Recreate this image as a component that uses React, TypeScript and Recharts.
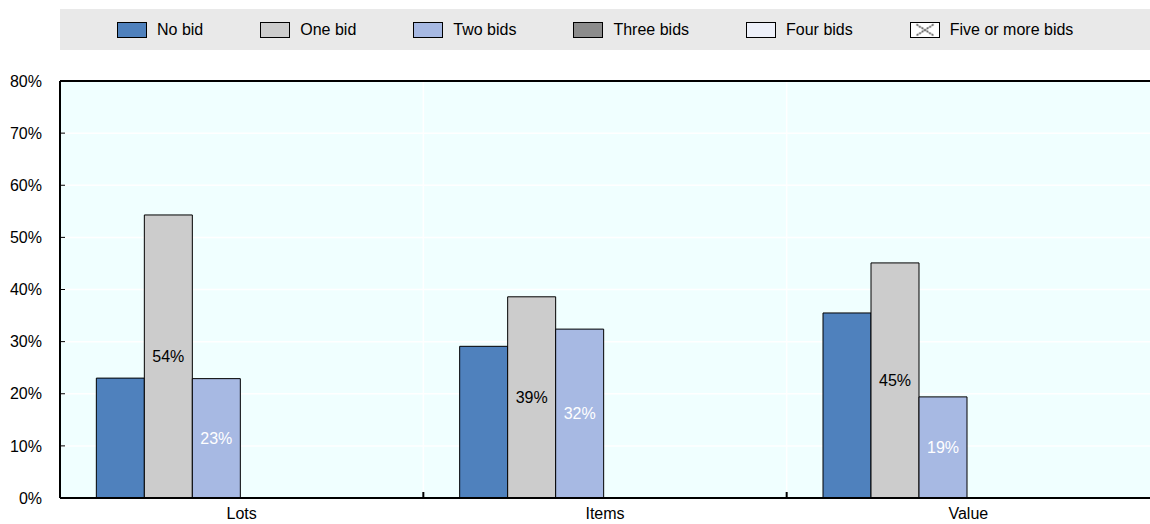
import React from "react";
import {
  BarChart,
  Bar,
  XAxis,
  YAxis,
  CartesianGrid,
  Legend,
  LabelList,
  ReferenceLine,
} from "recharts";

const categories = ["Lots", "Items", "Value"];
const noBid = [23.0, 29.1, 35.5];
const oneBid = [54.3, 38.6, 45.1];
const twoBids = [22.9, 32.4, 19.4];
const threeBids = [0, 0, 0];
const fourBids = [0, 0, 0];
const fiveOrMore = [0, 0, 0];
const yTicks = [0, 10, 20, 30, 40, 50, 60, 70, 80];

const series = [
  { key: "noBid", name: "No bid", color: "#4f81bd", values: noBid },
  { key: "oneBid", name: "One bid", color: "#cccccc", values: oneBid },
  { key: "twoBids", name: "Two bids", color: "#a7b9e3", values: twoBids },
  { key: "threeBids", name: "Three bids", color: "#8c8c8c", values: threeBids },
  { key: "fourBids", name: "Four bids", color: "#eef1fa", values: fourBids },
  { key: "fiveOrMore", name: "Five or more bids", color: "url(#hatch)", values: fiveOrMore },
];

const data = categories.map((cat, i) => {
  const row: Record<string, string | number> = { cat };
  series.forEach((s) => {
    row[s.key] = s.values[i];
  });
  return row;
});

const FONT = '"Liberation Sans", Arial, sans-serif';
const X_TICK_MARGIN = 10;

const pct = (v: number) => `${Math.round(v)}%`;

const LegendBox = () => (
  <div
    style={{
      width: 1090,
      height: 41,
      background: "#e9e9e9",
      display: "flex",
      alignItems: "center",
      paddingLeft: 57,
      boxSizing: "border-box",
      fontFamily: FONT,
      fontSize: 16,
      color: "#000",
    }}
  >
    {series.map((s) => (
      <div key={s.key} style={{ display: "flex", alignItems: "center", marginRight: 57 }}>
        <svg width={30} height={16} style={{ marginRight: 10 }}>
          <defs>
            <pattern id="hatchLegend" width="29" height="15" patternUnits="userSpaceOnUse" x="0.5" y="0.5">
              <rect width="29" height="15" fill="#fff" />
              <path d="M6,2 L23,13 M23,2 L6,13" stroke="#000" strokeWidth={1.2} strokeDasharray="2 1" />
            </pattern>
          </defs>
          <rect
            x={0.5}
            y={0.5}
            width={29}
            height={15}
            fill={s.key === "fiveOrMore" ? "url(#hatchLegend)" : s.color}
            stroke="#000"
            strokeWidth={1}
          />
        </svg>
        <span style={{ whiteSpace: "nowrap" }}>{s.name}</span>
      </div>
    ))}
  </div>
);

// category label at band centre, plus a small inward tick at the band's right edge
const CategoryTick = (props: any) => {
  const { x, y, payload, index } = props;
  const half = payload?.offset ?? 0;
  const axisY = y - X_TICK_MARGIN;
  return (
    <g>
      <text
        x={x}
        y={y}
        dy="0.71em"
        textAnchor="middle"
        fill="#000"
        fontSize={16}
        fontFamily={FONT}
      >
        {payload.value}
      </text>
      {index < categories.length - 1 && (
        <line
          x1={x + half}
          x2={x + half}
          y1={axisY}
          y2={axisY - 6}
          stroke="#000"
          strokeWidth={2}
        />
      )}
    </g>
  );
};

export default function App() {
  return (
    <div style={{ width: 1150, height: 524 }}>
      <style>{`body{margin:0}`}</style>
      <BarChart
        width={1150}
        height={524}
        data={data}
        margin={{ top: 40, right: 0, left: 0, bottom: 0 }}
        barCategoryGap="10%"
        barGap={0}
      >
        <defs>
          <pattern id="hatch" width="6" height="6" patternUnits="userSpaceOnUse">
            <rect width="6" height="6" fill="#fff" />
            <path d="M0,0 L6,6 M6,0 L0,6" stroke="#000" strokeWidth={1} />
          </pattern>
        </defs>
        <CartesianGrid
          fill="#f0ffff"
          stroke="#ffffff"
          strokeWidth={1.5}
          verticalCoordinatesGenerator={({ offset }: any) =>
            categories
              .slice(1)
              .map((_, i) => offset.left + (offset.width * (i + 1)) / categories.length)
          }
        />
        <Legend
          verticalAlign="top"
          align="center"
          wrapperStyle={{ top: 9, left: 60, width: 1090, height: 41 }}
          content={() => <LegendBox />}
        />
        <XAxis
          dataKey="cat"
          tickLine={false}
          tickSize={0}
          axisLine={{ stroke: "#000", strokeWidth: 2 }}
          height={26}
          tickMargin={X_TICK_MARGIN}
          tick={<CategoryTick />}
        />
        <YAxis
          domain={[0, 80]}
          ticks={yTicks}
          tickFormatter={(v: number) => `${v}%`}
          width={60}
          axisLine={{ stroke: "#000", strokeWidth: 2 }}
          tickLine={{ stroke: "#000", strokeWidth: 1 }}
          tickSize={-5}
          tickMargin={23}
          tick={{ fill: "#000", fontSize: 16, fontFamily: FONT }}
        />
        <ReferenceLine y={80} stroke="#000" strokeWidth={2} />
        {series.map((s) => (
          <Bar
            key={s.key}
            dataKey={s.key}
            name={s.name}
            fill={s.color}
            stroke="#000"
            strokeWidth={1}
            isAnimationActive={false}
          >
            {s.key === "oneBid" && (
              <LabelList
                dataKey={s.key}
                position="center"
                formatter={(v: number) => pct(v)}
                fill="#000"
                fontSize={16}
                fontFamily={FONT}
              />
            )}
            {s.key === "twoBids" && (
              <LabelList
                dataKey={s.key}
                position="center"
                formatter={(v: number) => pct(v)}
                fill="#fff"
                fontSize={16}
                fontFamily={FONT}
              />
            )}
          </Bar>
        ))}
      </BarChart>
    </div>
  );
}
